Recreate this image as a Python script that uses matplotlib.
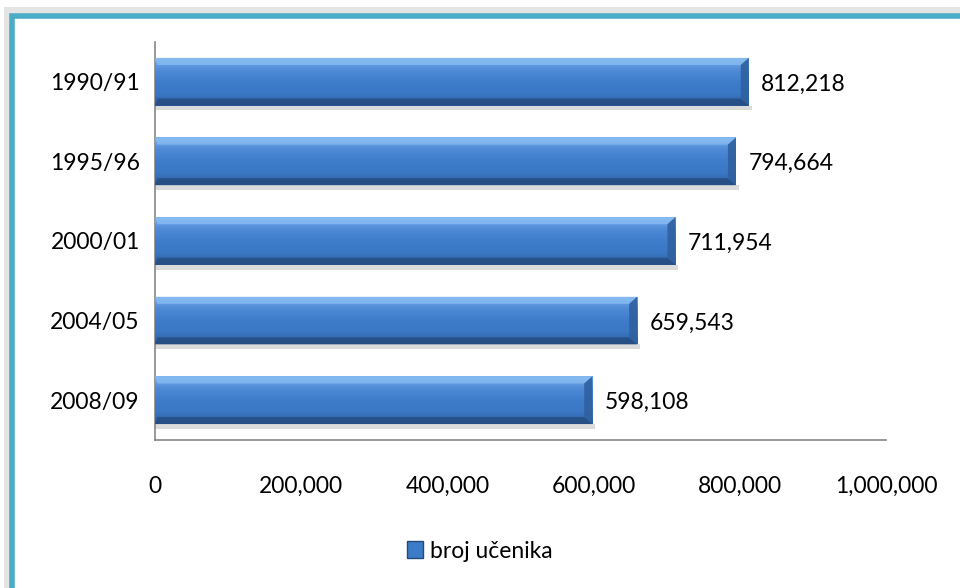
import numpy as np
import matplotlib.pyplot as plt
from matplotlib.patches import Rectangle, Polygon
from matplotlib.ticker import FuncFormatter
from matplotlib.colors import LinearSegmentedColormap

# podaci
godine = ["1990/91", "1995/96", "2000/01", "2004/05", "2008/09"]
ucenici = [812218, 794664, 711954, 659543, 598108]
naziv = "broj učenika"

plt.rcParams['font.family'] = ['Lato', 'DejaVu Sans']

fig = plt.figure(figsize=(9.6, 5.88), dpi=100)
ax = fig.add_axes([0.1615, 0.2517, 0.7615, 0.677])

# okvir (teal) sa sjenom
fig.patches.append(Rectangle((7/960, -0.05), 1.1, 1 - 10/588 + 0.05, transform=fig.transFigure,
                             fill=False, lw=5, ec='#e4e4e4', zorder=0))
fig.patches.append(Rectangle((12/960, -0.05), 1.1, 1 - 16/588 + 0.05, transform=fig.transFigure,
                             fill=False, lw=4, ec='#4bacc6', zorder=1))

grad = LinearSegmentedColormap.from_list('g', ['#2e5f9f', '#3a77c4', '#3e7dcb', '#4f8ad6', '#77aeee'])
h = 0.6
bx = 11000   # sirina ruba u x jedinicama
by = 0.09
y = np.arange(len(godine))
for i, v in enumerate(ucenici):
    y0, y1 = y[i] - h/2, y[i] + h/2
    # sjena
    ax.add_patch(Rectangle((0, y1), v + 4000, 0.06, fc='#b8b8b8', ec='none', alpha=0.5, zorder=1))
    b = ax.barh(y[i], v, height=h, color='#3c7bc8', zorder=2)[0]
    im = ax.imshow(np.linspace(0, 1, 50).reshape(-1, 1), cmap=grad, aspect='auto',
                   extent=(0, v, y1, y0), origin='lower', zorder=3)
    im.set_clip_path(b)
    # ivice (bevel)
    ax.add_patch(Polygon([(0, y0), (v, y0), (v - bx, y0 + by), (bx * 0.3, y0 + by)],
                         fc='#8cc0f4', ec='none', alpha=0.7, zorder=4))
    ax.add_patch(Polygon([(0, y1), (v, y1), (v - bx, y1 - by), (bx * 0.3, y1 - by)],
                         fc='#24487a', ec='none', alpha=0.7, zorder=4))
    ax.add_patch(Polygon([(v, y0), (v, y1), (v - bx, y1 - by), (v - bx, y0 + by)],
                         fc='#30609f', ec='none', alpha=0.9, zorder=4))
    ax.text(v + 17000, y[i] + 0.03, f"{v:,}", va='center', ha='left', fontsize=16.5, color='black')

ax.set_xlim(0, 1000000)
ax.set_ylim(4.5, -0.5)
ax.set_yticks(y)
ax.set_yticklabels(godine)
ax.set_xticks(np.arange(0, 1000001, 200000))
ax.xaxis.set_major_formatter(FuncFormatter(lambda x, p: f"{int(x):,}"))
ax.tick_params(axis='both', length=0, labelsize=16.5, colors='black')
ax.tick_params(axis='x', pad=26)
ax.tick_params(axis='y', pad=11)
for s in ['top', 'right']:
    ax.spines[s].set_visible(False)
for s in ['left', 'bottom']:
    ax.spines[s].set_color('#868686')
    ax.spines[s].set_linewidth(1.2)
ax.set_facecolor('none')

leg_h = Rectangle((0, 0), 1, 1, fc='#3c7bc8', ec='#24487a')
fig.legend([leg_h], [naziv], loc='center', bbox_to_anchor=(0.5, 1 - 551/588), frameon=False,
           fontsize=16.5, handlelength=0.7, handleheight=0.7, handletextpad=0.3)

fig.savefig('out.png', dpi=100)
